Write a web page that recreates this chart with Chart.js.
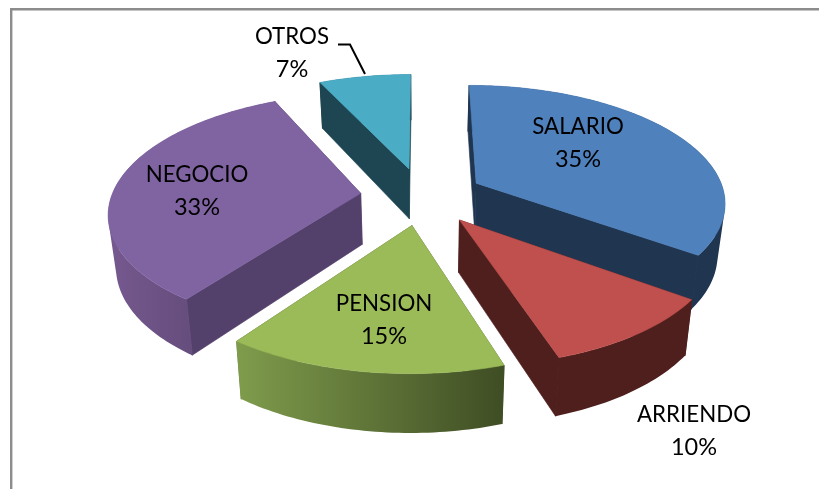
<!DOCTYPE html>
<html>
<head>
<meta charset="utf-8">
<title>Ingresos</title>
<script src="https://cdn.jsdelivr.net/npm/chart.js@4"></script>
<style>
html,body{margin:0;padding:0;background:#fff;}
#wrap{width:819px;height:489px;}
</style>
</head>
<body>
<div id="wrap"><canvas id="pie" width="819" height="489"></canvas></div>
<script>
/* ---------- DATA ---------- */
const categories = ['SALARIO','ARRIENDO','PENSION','NEGOCIO','OTROS'];
const percents   = [35,10,15,33,7];

/* ---------- STYLE ---------- */
const topColors  = ['#4f81bd','#c0504d','#9bbb59','#8064a2','#4bacc6'];
const sideColors = ['#1f3550','#4f1f1e','#4f6128','#54416b','#1e4552'];
const wallStops  = [['#1f3550','#1f3550'],['#4f1f1e','#4f1f1e'],['#7f9c4c','#3f4d24'],['#76598f','#54416b'],['#1e4552','#1e4552']];
const labelSpots = [[578,127],[694,415],[384,304],[197,175],[292,37]];
const paintOrder = [4,0,3,1,2];

/* ---------- 3D VIEW ---------- */
const view = {cx:422,cy:196,rx:249,ry:116,persp:.15,shrink:.975};
const project = (u,v) => {
  const w = 1/(1-view.persp*v);
  return {x:view.cx+view.rx*u*w, y:view.cy+view.ry*v*w, w};
};
const lower = p => ({
  x:view.cx+(p.x-view.cx)*view.shrink,
  y:p.y+15.8+35.4*p.w
});

function tracePath(ctx,pts){
  ctx.beginPath();
  pts.forEach((p,i)=> i ? ctx.lineTo(p.x,p.y) : ctx.moveTo(p.x,p.y));
  ctx.closePath();
}

function fillFace(ctx,pts,fill){
  tracePath(ctx,pts);
  ctx.fillStyle=fill; ctx.fill();
  ctx.strokeStyle=fill; ctx.lineWidth=.6; ctx.stroke();
}

// outer wall: all quads in one path with the same winding, so no seams and no holes at the fold
function fillWall(ctx,rim,fill){
  ctx.beginPath();
  rim.slice(1).forEach((p,k)=>{
    let q=[rim[k],p,lower(p),lower(rim[k])];
    const area=q.reduce((s,a,j)=>{const b=q[(j+1)%4];return s+a.x*b.y-b.x*a.y;},0);
    if(area<0) q=q.reverse();
    q.forEach((c,j)=> j ? ctx.lineTo(c.x,c.y) : ctx.moveTo(c.x,c.y));
    ctx.closePath();
  });
  ctx.fillStyle=fill; ctx.fill();
  // cover the join with the radial faces
  const ends=[rim[0],rim[rim.length-1]];
  ctx.beginPath();
  ends.forEach(p=>{const b=lower(p); ctx.moveTo(p.x,p.y); ctx.lineTo(b.x,b.y);});
  ctx.strokeStyle=fill; ctx.lineWidth=1.2; ctx.stroke();
}

/* slices come from the arc elements, only the flat drawing is replaced */
const pie3d = {
  id:'pie3d',
  beforeDatasetDraw(chart){
    const ctx=chart.ctx, arcs=chart.getDatasetMeta(0).data;
    paintOrder.forEach(i=>{
      const a=arcs[i], {startAngle,endAngle,outerRadius:R}=a.getProps(['startAngle','endAngle','outerRadius'],true);
      const mid=(startAngle+endAngle)/2, e=a.options.offset/R;
      const ou=Math.cos(mid)*e, ov=Math.sin(mid)*e;
      const apex=project(ou,ov), rim=[];
      const n=Math.ceil((endAngle-startAngle)/.02);
      for(let k=0;k<=n;k++){
        const t=startAngle+(endAngle-startAngle)*k/n;
        rim.push(project(ou+Math.cos(t),ov+Math.sin(t)));
      }
      const first=rim[0], last=rim[rim.length-1];
      fillFace(ctx,[apex,first,lower(first),lower(apex)],sideColors[i]);
      fillFace(ctx,[apex,last,lower(last),lower(apex)],sideColors[i]);
      const xs=rim.map(p=>p.x), g=ctx.createLinearGradient(Math.min(...xs),0,Math.max(...xs),0);
      g.addColorStop(0,wallStops[i][0]); g.addColorStop(1,wallStops[i][1]);
      fillWall(ctx,rim,g);
      fillFace(ctx,[apex,...rim],topColors[i]);
    });
    return false;
  },
  afterDraw(chart){
    const ctx=chart.ctx;
    ctx.save();
    // frame
    ctx.strokeStyle='#8c8c8c'; ctx.lineWidth=2.4;
    ctx.beginPath(); ctx.moveTo(11.2,489); ctx.lineTo(11.2,9.2); ctx.lineTo(819,9.2); ctx.stroke();
    // leader of OTROS
    ctx.strokeStyle='#000'; ctx.lineWidth=2;
    ctx.beginPath(); ctx.moveTo(338,44.5); ctx.lineTo(350,44.5); ctx.lineTo(365,74); ctx.stroke();
    // labels
    ctx.fillStyle='#000'; ctx.textAlign='center'; ctx.textBaseline='middle';
    categories.forEach((c,i)=>{
      const [x,y]=labelSpots[i];
      ctx.font='22.3px Lato';
      ctx.fillText(c,x,y);
      ctx.font='23.5px Lato';
      ctx.fillText(percents[i]+'%',x,y+32);
    });
    ctx.restore();
  }
};

new Chart(document.getElementById('pie').getContext('2d'),{
  type:'pie',
  data:{labels:categories,datasets:[{data:percents,backgroundColor:topColors,borderWidth:0,offset:54}]},
  options:{
    responsive:false,
    animation:false,
    plugins:{legend:{display:false},tooltip:{enabled:false}}
  },
  plugins:[pie3d]
});
</script>
</body>
</html>
